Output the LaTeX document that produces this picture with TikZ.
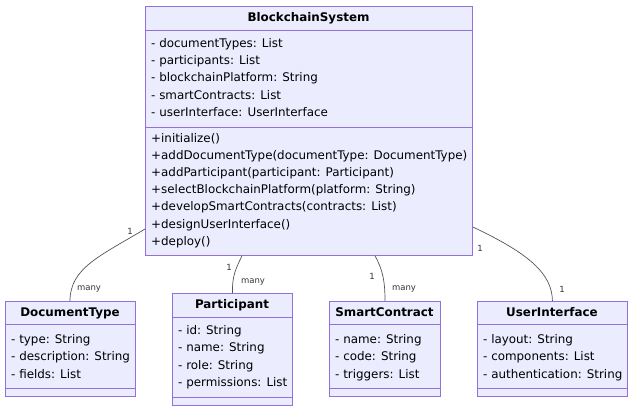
\documentclass[tikz,border=0pt]{standalone}
\usepackage{fontspec}
\setmainfont{DejaVu Sans}
\definecolor{umlfill}{HTML}{ECECFF}
\definecolor{umlborder}{HTML}{9370DB}
\definecolor{linkcol}{HTML}{555555}
\definecolor{lblcol}{HTML}{333333}
\begin{document}
\begin{tikzpicture}[x=1pt,y=-1pt,
  cls/.style={draw=umlborder, fill=umlfill, line width=0.9pt, anchor=north west, inner sep=0pt},
  sepline/.style={draw=umlborder, line width=0.9pt},
  txt/.style={anchor=west, inner sep=0pt, font=\fontsize{11.9}{14}\selectfont, text height=8.8pt, text depth=2.6pt, text=black},
  ttl/.style={inner sep=0pt, font=\fontsize{11.9}{14}\selectfont\bfseries, text height=8.8pt, text depth=2.6pt},
  lbl/.style={inner sep=0pt, font=\fontsize{8.5}{10}\selectfont, text=lblcol},
  conn/.style={draw=linkcol, line width=0.7pt}]
\useasboundingbox (0,0) rectangle (640,416);
\fill[white] (0,0) rectangle (640,416);

% BlockchainSystem
\node[cls, minimum width=327pt, minimum height=249pt] (bs) at (145,6) {};
\draw[sepline] (145,30) -- (472,30);
\draw[sepline] (145,127) -- (472,127);
\node[ttl] (bst) at (308.5,18) {BlockchainSystem};
\node[txt] (bsa1) at (151,44) {- documentTypes: List};
\node[txt] (bsa2) at (151,61.3) {- participants: List};
\node[txt] (bsa3) at (151,78.6) {- blockchainPlatform: String};
\node[txt] (bsa4) at (151,95.9) {- smartContracts: List};
\node[txt] (bsa5) at (151,113.2) {- userInterface: UserInterface};
\node[txt] (bsm1) at (151,139) {+initialize()};
\node[txt] (bsm2) at (151,156.2) {+addDocumentType(documentType: DocumentType)};
\node[txt] (bsm3) at (151,173.4) {+addParticipant(participant: Participant)};
\node[txt] (bsm4) at (151,190.6) {+selectBlockchainPlatform(platform: String)};
\node[txt] (bsm5) at (151,207.8) {+developSmartContracts(contracts: List)};
\node[txt] (bsm6) at (151,225) {+designUserInterface()};
\node[txt] (bsm7) at (151,242.2) {+deploy()};

% DocumentType
\node[cls, minimum width=130pt, minimum height=95pt] (dt) at (5,301) {};
\draw[sepline] (5,324) -- (135,324);
\draw[sepline] (5,388) -- (135,388);
\node[ttl] (dtt) at (70,313) {DocumentType};
\node[txt] (dta1) at (11,340) {- type: String};
\node[txt] (dta2) at (11,357.5) {- description: String};
\node[txt] (dta3) at (11,375) {- fields: List};

% Participant
\node[cls, minimum width=120pt, minimum height=112pt] (pa) at (172,293) {};
\draw[sepline] (172,317) -- (292,317);
\draw[sepline] (172,397) -- (292,397);
\node[ttl] (pat) at (232,305) {Participant};
\node[txt] (paa1) at (178,331) {- id: String};
\node[txt] (paa2) at (178,348.5) {- name: String};
\node[txt] (paa3) at (178,366) {- role: String};
\node[txt] (paa4) at (178,383.5) {- permissions: List};

% SmartContract
\node[cls, minimum width=111pt, minimum height=95pt] (sc) at (329,301) {};
\draw[sepline] (329,324) -- (440,324);
\draw[sepline] (329,388) -- (440,388);
\node[ttl] (sct) at (384.5,313) {SmartContract};
\node[txt] (sca1) at (335,340) {- name: String};
\node[txt] (sca2) at (335,357.5) {- code: String};
\node[txt] (sca3) at (335,375) {- triggers: List};

% UserInterface
\node[cls, minimum width=150pt, minimum height=95pt] (ui) at (477,301) {};
\draw[sepline] (477,324) -- (627,324);
\draw[sepline] (477,388) -- (627,388);
\node[ttl] (uit) at (552,313) {UserInterface};
\node[txt] (uia1) at (483,340) {- layout: String};
\node[txt] (uia2) at (483,357.5) {- components: List};
\node[txt] (uia3) at (483,375) {- authentication: String};

% connectors
\draw[conn] (bs.west |- 0,229) .. controls (100,256) and (70,268) .. (dt.north -| 70,0);
\draw[conn] (bs.south -| 242,0) .. controls (236,268) and (232,276) .. (pa.north);
\draw[conn] (bs.south -| 375,0) .. controls (383,270) and (385,282) .. (sc.north -| 385,0);
\draw[conn] (bs.east |- 0,227) .. controls (530,254) and (552,274) .. (ui.north);

% multiplicities
\node[lbl] (l1a) at (130,231) {1};
\node[lbl] (l1b) at (89,289) {many};
\node[lbl] (l2a) at (229,267) {1};
\node[lbl] (l2b) at (253,282) {many};
\node[lbl] (l3a) at (372,276) {1};
\node[lbl] (l3b) at (404,289) {many};
\node[lbl] (l4a) at (480,248) {1};
\node[lbl] (l4b) at (562,289) {1};
\end{tikzpicture}
\end{document}
